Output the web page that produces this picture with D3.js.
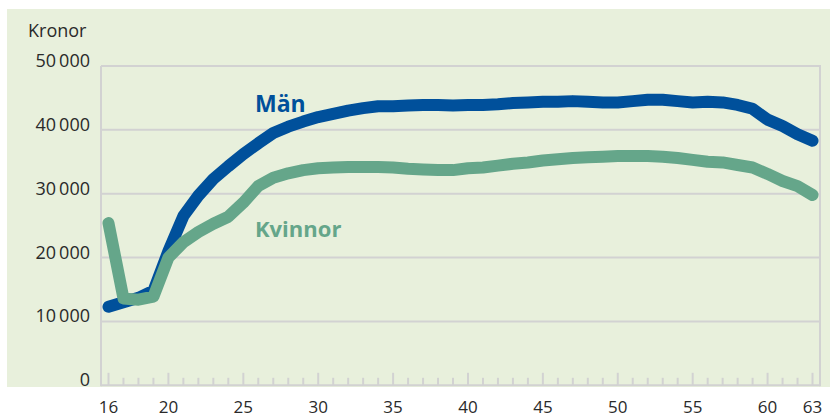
<!DOCTYPE html>
<html>
<head>
<meta charset="utf-8">
<script src="https://cdn.jsdelivr.net/npm/d3@7"></script>
<style>
  html, body { margin: 0; padding: 0; background: #ffffff; }
  svg { display: block; }
  text { font-family: "Open Sans", "DejaVu Sans", sans-serif; }
</style>
</head>
<body>
<svg id="chart" width="830" height="418"></svg>
<script>
// Age in years
const ages = d3.range(16, 64);

// Monthly salary, kronor
const men = [
  12300, 13000, 13700, 14800, 21000, 26500, 29700, 32300, 34300, 36200,
  37900, 39500, 40500, 41300, 42000, 42500, 43000, 43400, 43700, 43700,
  43800, 43900, 43900, 43800, 43900, 43900, 44000, 44200, 44300, 44400,
  44400, 44500, 44400, 44300, 44300, 44500, 44700, 44700, 44500, 44300,
  44400, 44300, 43900, 43300, 41600, 40600, 39300, 38300
];
const women = [
  25400, 13600, 13400, 13900, 20000, 22400, 24000, 25300, 26400, 28600,
  31200, 32500, 33200, 33700, 34000, 34100, 34200, 34200, 34200, 34100,
  33900, 33800, 33700, 33700, 34000, 34100, 34400, 34700, 34900, 35200,
  35400, 35600, 35700, 35800, 35900, 35900, 35900, 35800, 35600, 35300,
  35000, 34900, 34500, 34100, 33100, 32000, 31200, 29800
];

const yTicks = [0, 10000, 20000, 30000, 40000, 50000];
const xLabels = [16, 20, 25, 30, 35, 40, 45, 50, 55, 60, 63];

const seriesNames = ["Män", "Kvinnor"];
const colors = { "Män": "#00509b", "Kvinnor": "#65a68a" };

const svg = d3.select("#chart");

// Background panel
svg.append("rect")
  .attr("x", 7).attr("y", 9)
  .attr("width", 823).attr("height", 378)
  .attr("fill", "#e8f0dc");

const x = d3.scaleLinear().domain([15.5, 63.5]).range([101, 820]);
const y = d3.scaleLinear().domain([0, 50000]).range([385.3, 66]);

const gridColor = "#d2d2d2";
const fmt = v => v === 0 ? "0" : d3.format(",")(v).replace(/,/g, "\u2009");

// Horizontal gridlines
svg.append("g").selectAll("line")
  .data(yTicks)
  .join("line")
  .attr("x1", x.range()[0]).attr("x2", x.range()[1])
  .attr("y1", d => y(d)).attr("y2", d => y(d))
  .attr("stroke", gridColor).attr("stroke-width", 2);

// Left and right frame lines
svg.append("line")
  .attr("x1", x.range()[0]).attr("x2", x.range()[0])
  .attr("y1", y(50000)).attr("y2", y(0) + 1)
  .attr("stroke", gridColor).attr("stroke-width", 2);
svg.append("line")
  .attr("x1", x.range()[1]).attr("x2", x.range()[1])
  .attr("y1", y(50000) - 1).attr("y2", y(0) + 1)
  .attr("stroke", gridColor).attr("stroke-width", 2);

// Y tick labels
svg.append("g").selectAll("text")
  .data(yTicks)
  .join("text")
  .attr("x", 90)
  .attr("y", d => y(d) + 1)
  .attr("text-anchor", "end")
  .attr("font-size", 18)
  .attr("fill", "#2a2a2a")
  .text(fmt);

// Axis title
svg.append("text")
  .attr("x", 28).attr("y", 37)
  .attr("font-size", 18)
  .attr("fill", "#2a2a2a")
  .text("Kronor");

// X ticks: one per year, longer at labelled ages
svg.append("g").selectAll("line")
  .data(ages)
  .join("line")
  .attr("x1", d => x(d)).attr("x2", d => x(d))
  .attr("y1", d => y(0) - (xLabels.includes(d) ? 12.5 : 7.5))
  .attr("y2", y(0))
  .attr("stroke", gridColor).attr("stroke-width", 2);

// X tick labels
svg.append("g").selectAll("text")
  .data(xLabels)
  .join("text")
  .attr("x", d => x(d))
  .attr("y", 413)
  .attr("text-anchor", "middle")
  .attr("font-size", 17)
  .attr("fill", "#2a2a2a")
  .text(d => d);

// Series lines (women drawn last, on top)
const line = d3.line()
  .x((d, i) => x(ages[i]))
  .y(d => y(d));

const series = [
  { name: "Män", values: men },
  { name: "Kvinnor", values: women }
];

svg.append("g").selectAll("path")
  .data(series)
  .join("path")
  .attr("d", d => line(d.values))
  .attr("fill", "none")
  .attr("stroke", d => colors[d.name])
  .attr("stroke-width", 12)
  .attr("stroke-linejoin", "round")
  .attr("stroke-linecap", "round");

// Series labels
svg.append("text")
  .attr("x", 255).attr("y", 112)
  .attr("font-size", 23).attr("font-weight", "bold")
  .attr("fill", colors["Män"])
  .text(seriesNames[0]);
svg.append("text")
  .attr("x", 255).attr("y", 237)
  .attr("font-size", 22).attr("font-weight", "bold")
  .attr("fill", colors["Kvinnor"])
  .text(seriesNames[1]);
</script>
</body>
</html>
